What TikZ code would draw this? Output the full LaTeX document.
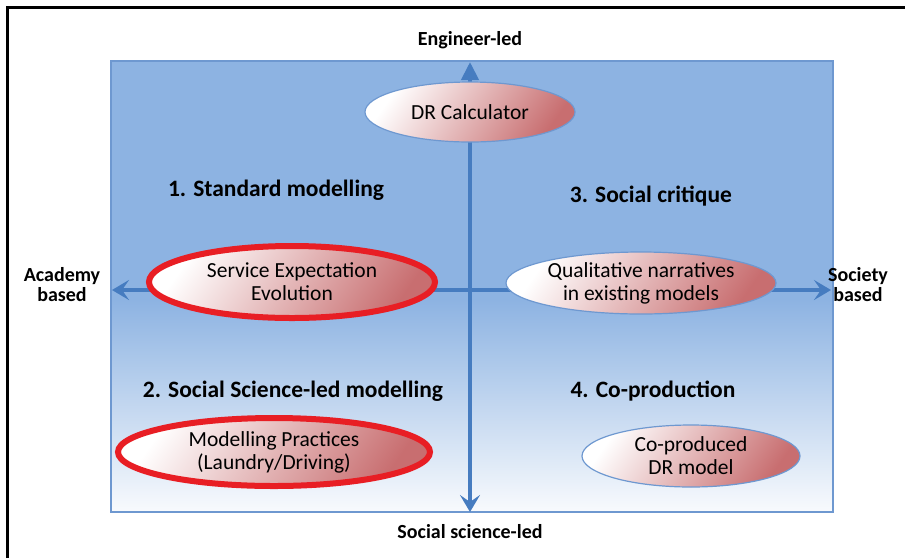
\documentclass[tikz,border=0pt]{standalone}
\usepackage{fontspec}
\setmainfont{Carlito}
\usetikzlibrary{arrows.meta,calc,positioning,shapes.geometric}
\definecolor{bgblue}{RGB}{141,179,226}
\definecolor{edgeblue}{RGB}{110,152,208}
\definecolor{axisblue}{RGB}{70,124,192}
\definecolor{pinkred}{RGB}{200,110,112}
\definecolor{hlred}{RGB}{232,30,36}

\begin{document}
\begin{tikzpicture}[x=1pt,y=-1pt,
    axis/.style={draw=axisblue,line width=4pt},
    idea/.style={ellipse,draw=edgeblue,line width=1.2pt,left color=white,
      right color=pinkred,shading angle=55,align=center,font=\fontsize{21.5}{23}\selectfont,
      inner sep=0pt},
    marked/.style={draw=hlred,line width=6pt},
    quad/.style={font=\fontsize{23.5}{25}\selectfont\bfseries},
    side/.style={font=\fontsize{20}{20}\selectfont\bfseries,align=center}]
    \useasboundingbox (0,0) rectangle (905,558);
    \draw[line width=3pt] (7,558) -- (7,7) -- (905,7);
    % background panel
    \fill[bgblue] (111,61) rectangle (833,301);
    \shade[top color=bgblue,bottom color=bgblue!6!white]
      (111,300) rectangle (833,512);
    \draw[edgeblue,line width=1.5pt] (111,61) rectangle (833,512);
    % axes
    \coordinate (O) at (470,290);
    \coordinate (N) at (470,62);
    \coordinate (S) at (470,512);
    \coordinate (W) at (112,290);
    \coordinate (E) at (831,290);
    \draw[axis,-{Triangle[length=18pt,width=17pt]}] (O) -- (N);
    \draw[axis,-{Stealth[length=17pt,width=20pt,inset=7pt]}] (O) -- (S);
    \draw[axis,-{Stealth[length=17pt,width=20pt,inset=7pt]}] (O) -- (W);
    \draw[axis,-{Stealth[length=17pt,width=20pt,inset=7pt]}] (O) -- (E);
    % axis labels
    \node[side] (eng) at (470,40) {Engineer-led};
    \node[side] (soc) at (470,532) {Social science-led};
    \node[side] (acad) at (62,285) {Academy\\based};
    \node[side] (society) at (858,285) {Society\\based};
    % quadrant titles
    \node[quad] (q1) at (276,190) {1. Standard modelling};
    \node[quad] (q3) at (651,196) {3. Social critique};
    \node[quad] (q2) at (293,391) {2. Social Science-led modelling};
    \node[quad] (q4) at (653,391) {4. Co-production};
    % ellipses
    \node[idea,minimum width=210pt,minimum height=60pt] (calc) at (470,112) {DR Calculator};
    \node[idea,marked,minimum width=286pt,minimum height=72pt] (serv) at (292,282)
      {Service Expectation\\Evolution};
    \node[idea,minimum width=270pt,minimum height=62pt] (qual) at (641,283)
      {Qualitative narratives\\in existing models};
    \node[idea,marked,minimum width=312pt,minimum height=68pt] (prac) at (274,452)
      {Modelling Practices\\(Laundry/Driving)};
    \node[idea,minimum width=218pt,minimum height=62pt] (coprod) at (691,456)
      {Co-produced\\DR model};
\end{tikzpicture}
\end{document}
